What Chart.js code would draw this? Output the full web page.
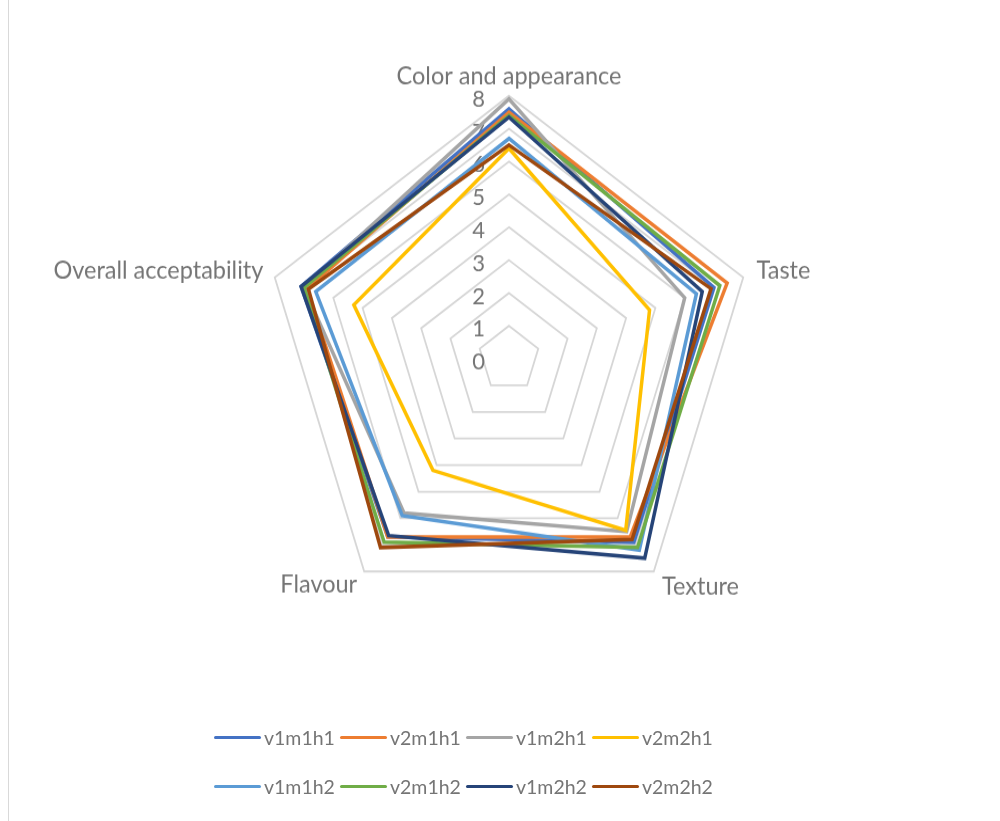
<!DOCTYPE html>
<html lang="en">
<head>
<meta charset="UTF-8">
<title>Sensory scores</title>
<script src="https://cdn.jsdelivr.net/npm/chart.js@4.4.0/dist/chart.umd.min.js"></script>
<style>
  body { margin: 0; background: #fff; }
  .wrap { position: relative; width: 1000px; height: 821px; overflow: hidden; }
  .wrap::before { content: ''; position: absolute; left: 8px; top: 0; bottom: 0; border-left: 1px solid #d9d9d9; }
  #radar { position: absolute; left: 0; top: 0; }
  .legend {
    position: absolute; left: 214px; top: 722px;
    display: grid; grid-template-columns: repeat(4, 126px); row-gap: 18px;
    font: 19.5px Lato, sans-serif; color: #757575;
  }
  .legend .key { display: flex; align-items: center; height: 31px; white-space: nowrap; }
  .legend .key i { display: inline-block; width: 47px; height: 3.5px; border-radius: 2px; margin-right: 3px; }
</style>
</head>
<body>
<div class="wrap">
  <!-- drawn at 1000x769 and shown at 1000x821 -->
  <canvas id="radar" width="1000" height="769" style="width:1000px;height:821px"></canvas>
  <div class="legend" id="legend"></div>
</div>
<script>
const criteria = ['Color and appearance', 'Taste', 'Texture', 'Flavour', 'Overall acceptability'];

const seriesNames = ['v1m1h1', 'v2m1h1', 'v1m2h1', 'v2m2h1', 'v1m1h2', 'v2m1h2', 'v1m2h2', 'v2m2h2'];
const seriesColors = ['#4472C4', '#ED7D31', '#A5A5A5', '#FFC000', '#5B9BD5', '#70AD47', '#264478', '#9E480E'];

// scores per criterion, same order as criteria
const v1m1h1 = [7.6, 7.0, 6.9, 6.7, 7.1];
const v2m1h1 = [7.5, 7.45, 6.7, 6.7, 6.9];
const v1m2h1 = [7.9, 6.0, 6.5, 5.8, 7.0];
const v2m2h1 = [6.4, 4.8, 6.45, 4.2, 5.3];
const v1m1h2 = [6.7, 6.4, 7.2, 5.9, 6.6];
const v2m1h2 = [7.4, 7.2, 7.1, 6.9, 7.0];
const v1m2h2 = [7.35, 6.6, 7.5, 6.65, 7.1];
const v2m2h2 = [6.5, 6.9, 6.8, 7.1, 6.85];
const seriesValues = [v1m1h1, v2m1h1, v1m2h1, v2m2h1, v1m1h2, v2m1h2, v1m2h2, v2m2h2];

const scaleMin = 0;
const scaleMax = 8;
const scaleStep = 1;

const textColor = '#757575';
const fontFamily = 'Lato, sans-serif';

// numbers down the left side of the vertical axis
const tickLabels = {
  id: 'tickLabels',
  beforeDatasetsDraw(chart) {
    const r = chart.scales.r;
    const ctx = chart.ctx;
    ctx.save();
    ctx.font = '22px ' + fontFamily;
    ctx.fillStyle = textColor;
    ctx.textAlign = 'right';
    ctx.textBaseline = 'middle';
    r.ticks.forEach(t => {
      const y = r.yCenter - r.getDistanceFromCenterForValue(t.value);
      ctx.fillText(t.label, r.xCenter - 24, y + 3);
    });
    ctx.restore();
  }
};

const datasets = seriesNames.map((name, i) => ({
  label: name,
  data: seriesValues[i],
  borderColor: seriesColors[i],
  backgroundColor: seriesColors[i],
  borderWidth: 3.5,
  fill: false,
  pointRadius: 0,
  pointHoverRadius: 0,
  order: seriesNames.length - i   // later series sit on top
}));

new Chart(document.getElementById('radar'), {
  type: 'radar',
  data: { labels: criteria, datasets: datasets },
  options: {
    responsive: false,
    devicePixelRatio: 1,
    animation: false,
    layout: { padding: { left: 22, right: 4, top: 59, bottom: 176 } },
    plugins: {
      legend: { display: false },
      tooltip: { enabled: false }
    },
    elements: { line: { tension: 0, borderJoinStyle: 'miter' } },
    scales: {
      r: {
        min: scaleMin,
        max: scaleMax,
        beginAtZero: true,
        ticks: { stepSize: scaleStep, display: false },
        angleLines: { display: false },
        grid: { color: '#d6d6d6', lineWidth: 1.8 },
        pointLabels: {
          color: textColor,
          font: { family: fontFamily, size: 23.5, lineHeight: 0.2 },
          padding: (ctx) => [16, 14, 14, 12, 12][ctx.index]
        }
      }
    }
  },
  plugins: [tickLabels]
});

// legend under the chart
const legend = document.getElementById('legend');
seriesNames.forEach((name, i) => {
  const key = document.createElement('span');
  key.className = 'key';
  const swatch = document.createElement('i');
  swatch.style.background = seriesColors[i];
  key.appendChild(swatch);
  key.appendChild(document.createTextNode(name));
  legend.appendChild(key);
});
</script>
</body>
</html>
